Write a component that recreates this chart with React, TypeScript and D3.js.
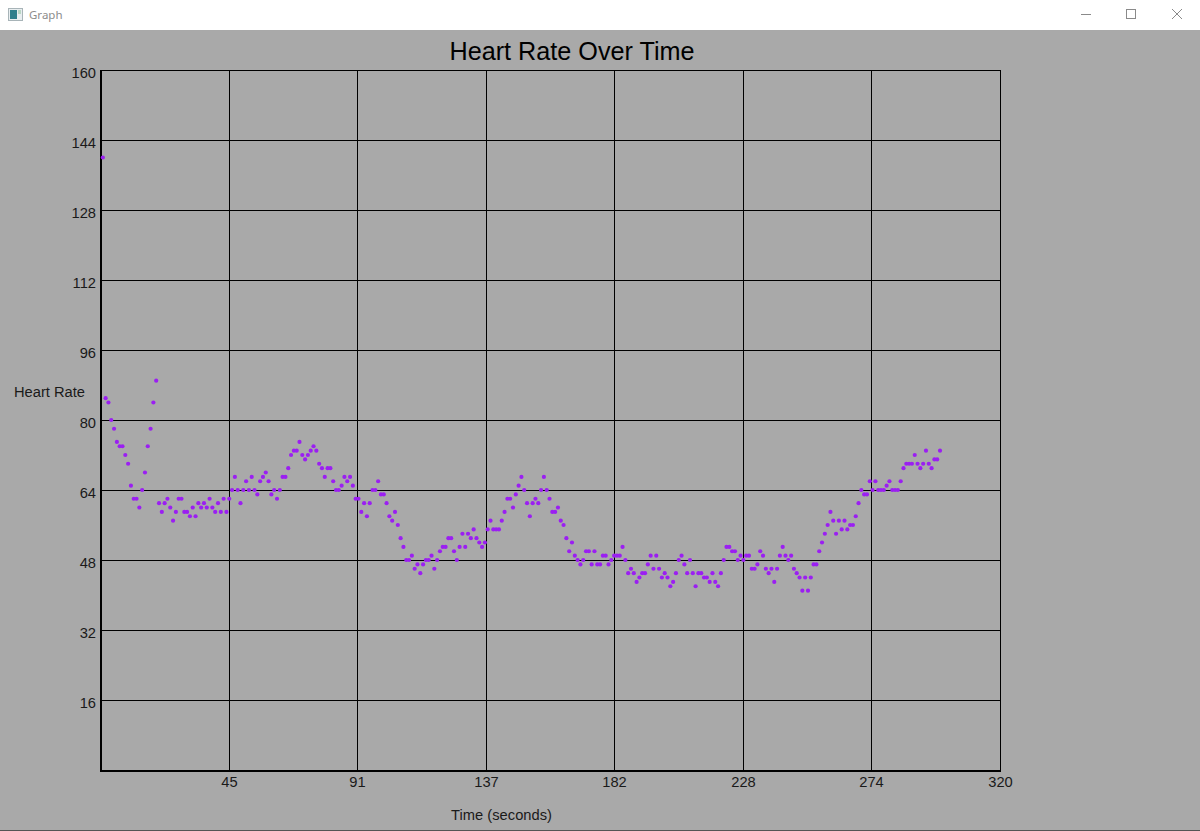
import React from 'react';
import * as d3 from 'd3';

const title = 'Heart Rate Over Time';
const xTitle = 'Time (seconds)';
const yTitle = 'Heart Rate';
const yTicks = [16, 32, 48, 64, 80, 96, 112, 128, 144, 160];
const xTickLabels = [45, 91, 137, 182, 228, 274, 320];
const xMax = 320;
const yMax = 160;
// one reading per second, the first one lands 0.65s in
const firstSample = 0.65;

const heartRate = [
  140, 85, 84, 80, 78, 75, 74, 74, 72, 70, 65, 62, 62, 60, 64, 68, 74, 78, 84, 89,
  61, 59, 61, 62, 60, 57, 59, 62, 62, 59, 59, 58, 60, 58, 61, 60, 61, 60, 62, 60,
  59, 61, 59, 62, 59, 62, 64, 67, 64, 61, 64, 66, 64, 67, 64, 63, 66, 67, 68, 66,
  63, 64, 62, 64, 67, 67, 69, 72, 73, 73, 75, 72, 71, 72, 73, 74, 73, 70, 69, 67,
  69, 69, 66, 64, 64, 65, 67, 66, 67, 65, 62, 62, 59, 61, 58, 61, 64, 64, 66, 63,
  63, 61, 58, 57, 59, 56, 53, 51, 48, 48, 49, 46, 47, 45, 47, 48, 48, 49, 46, 48,
  50, 51, 51, 53, 53, 50, 48, 51, 54, 51, 54, 53, 55, 53, 52, 51, 52, 55, 57, 55,
  55, 55, 57, 59, 62, 62, 60, 63, 65, 67, 64, 61, 58, 61, 62, 61, 64, 67, 64, 62,
  59, 59, 60, 57, 56, 53, 50, 52, 49, 48, 47, 48, 50, 50, 47, 50, 47, 47, 49, 49,
  47, 48, 49, 49, 49, 51, 48, 45, 46, 45, 43, 44, 45, 45, 47, 49, 46, 49, 46, 44,
  45, 44, 42, 43, 45, 48, 49, 47, 45, 48, 45, 42, 45, 45, 44, 44, 43, 45, 43, 42,
  45, 48, 51, 51, 50, 50, 48, 49, 48, 49, 49, 46, 46, 47, 50, 49, 46, 45, 46, 43,
  46, 49, 51, 49, 48, 49, 46, 45, 44, 41, 44, 41, 44, 47, 47, 50, 52, 54, 56, 59,
  57, 54, 57, 55, 57, 55, 56, 56, 58, 61, 64, 63, 63, 66, 64, 66, 64, 64, 64, 65,
  66, 64, 64, 64, 66, 69, 70, 70, 70, 72, 70, 69, 70, 73, 70, 69, 71, 71, 73,
];

const x = d3.scaleLinear().domain([0, xMax]).range([101, 1000]);
const y = d3.scaleLinear().domain([0, yMax]).range([770, 70]);
const xGrid = xTickLabels.map((label, i) => ({
  label,
  px: Math.floor(x((xMax * (i + 1)) / xTickLabels.length)) + 0.5,
}));

const font = '"Liberation Sans", Arial, sans-serif';
const gray = '#a9a9a9';
const dotColor = '#9b1ff2';

function TitleBar() {
  return (
    <g>
      <rect x={0} y={0} width={1200} height={30} fill="#fff" />
      <rect x={8.5} y={8.5} width={14} height={12} fill="#e8eef0" stroke="#a8b4b8" />
      <rect x={10} y={10} width={7} height={9} fill="#2f7f8c" />
      <rect x={18} y={10} width={3} height={4} fill="#b9d6c4" />
      <text x={29} y={19} fontFamily='"Noto Sans", sans-serif' fontSize={11.5} fill="#8c8c8c">Graph</text>
      <line x1={1081} x2={1091} y1={14.5} y2={14.5} stroke="#8a8a8a" />
      <rect x={1126.5} y={9.5} width={9} height={9} fill="none" stroke="#8a8a8a" />
      <path d="M1172,9L1182,19M1182,9L1172,19" stroke="#8a8a8a" fill="none" />
    </g>
  );
}

export default function App() {
  return (
    <svg width={1200} height={831} style={{ position: 'absolute', left: 0, top: 0, display: 'block' }}>
      <rect x={0} y={0} width={1200} height={831} fill={gray} />
      <TitleBar />
      <line x1={0} x2={1200} y1={830.5} y2={830.5} stroke="#555" />

      <text x={572} y={60} textAnchor="middle" fontFamily={font} fontSize={25.2} fill="#000">{title}</text>

      {/* grid */}
      <g stroke="#000" strokeWidth={1} shapeRendering="crispEdges">
        {yTicks.map(t => (
          <line key={t} x1={101} x2={1000} y1={y(t) + 0.5} y2={y(t) + 0.5} />
        ))}
        {xGrid.map(t => (
          <line key={t.label} x1={t.px} x2={t.px} y1={70} y2={770} />
        ))}
      </g>
      <g stroke="#000" strokeWidth={2} shapeRendering="crispEdges">
        <line x1={101} x2={101} y1={70} y2={772} />
        <line x1={100} x2={1001} y1={771} y2={771} />
      </g>

      {/* labels */}
      <g fontFamily={font} fontSize={14.7} fill="#1a1a1a">
        {yTicks.map(t => (
          <text key={t} x={96} y={y(t) + 8} textAnchor="end">{t}</text>
        ))}
        {xGrid.map(t => (
          <text key={t.label} x={t.px} y={787} textAnchor="middle">{t.label}</text>
        ))}
        <text x={14} y={397}>{yTitle}</text>
        <text x={451} y={820} textLength={101}>{xTitle}</text>
      </g>

      {/* readings */}
      <g fill={dotColor}>
        {heartRate.map((v, i) => (
          <circle key={i} cx={x(i + firstSample)} cy={y(v)} r={2.1} />
        ))}
      </g>
    </svg>
  );
}
